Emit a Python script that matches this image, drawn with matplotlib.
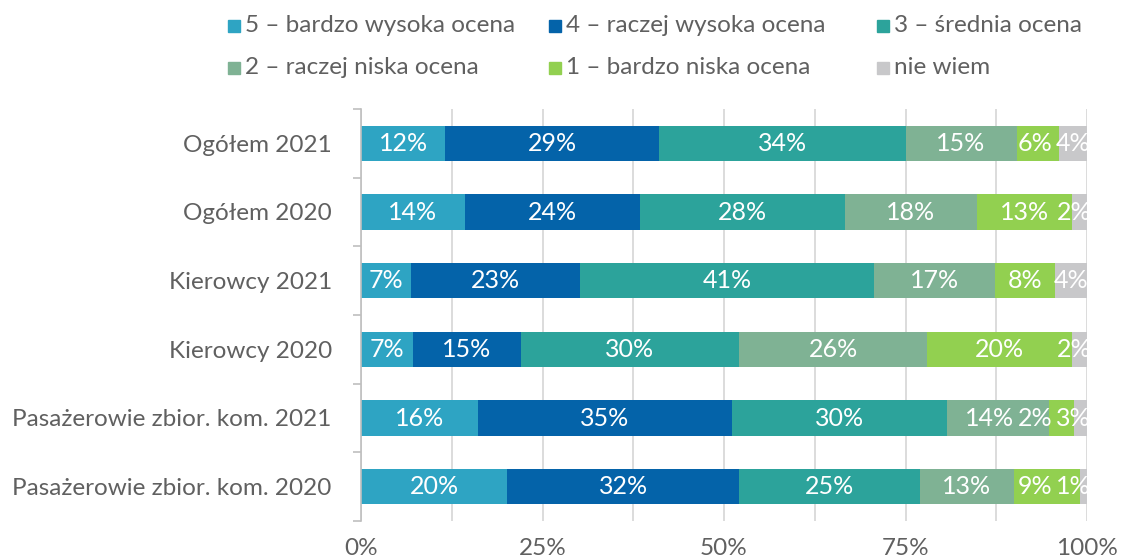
import matplotlib
matplotlib.use("Agg")
import matplotlib.pyplot as plt
from matplotlib.patches import Rectangle
import numpy as np

plt.rcParams['font.family'] = ['Lato', 'DejaVu Sans']

categories = ["Ogółem 2021", "Ogółem 2020", "Kierowcy 2021", "Kierowcy 2020",
              "Pasażerowie zbior. kom. 2021", "Pasażerowie zbior. kom. 2020"]
series = ["5 – bardzo wysoka ocena", "4 – raczej wysoka ocena", "3 – średnia ocena",
          "2 – raczej niska ocena", "1 – bardzo niska ocena", "nie wiem"]
colors = ["#2EA4C3", "#0463A9", "#2CA39B", "#7FB294", "#92D050", "#C8C8CA"]

# segment widths (in %)
values = [
    [11.6, 29.5, 33.9, 15.3, 5.8, 4.0],
    [14.3, 24.1, 28.3, 18.1, 13.1, 2.1],
    [6.9, 23.3, 40.5, 16.6, 8.3, 4.4],
    [7.2, 14.8, 30.1, 25.9, 19.9, 2.1],
    [16.1, 35.0, 29.6, 14.1, 3.4, 1.8],
    [20.1, 32.0, 24.9, 12.9, 9.1, 1.0],
]
# printed data labels
labels = [
    [12, 29, 34, 15, 6, 4],
    [14, 24, 28, 18, 13, 2],
    [7, 23, 41, 17, 8, 4],
    [7, 15, 30, 26, 20, 2],
    [16, 35, 30, 14, 2, 3],
    [20, 32, 25, 13, 9, 1],
]

grey = "#606060"
fig = plt.figure(figsize=(11.22, 5.58), dpi=100)
ax = fig.add_axes([361/1122, 1-521/558, 726/1122, 412/558])

vals = np.array(values)
y = np.arange(len(categories))
left = np.zeros(len(categories))
texts = [[] for _ in categories]
for j in range(len(series)):
    ax.barh(y, vals[:, j], left=left, height=0.51, color=colors[j], zorder=2)
    for i in range(len(categories)):
        t = ax.text(left[i] + vals[i, j]/2, y[i], f"{labels[i][j]}%", color="white",
                    fontsize=18, ha="center", va="center", zorder=3)
        texts[i].append(t)
    left += vals[:, j]

ax.set_xlim(0, 100)
ax.set_ylim(len(categories) - 0.5, -0.5)
ax.set_yticks(y)
ax.set_yticklabels(categories, fontsize=17.5, color=grey)
ax.set_yticks(np.arange(len(categories) + 1) - 0.5, minor=True)
ax.tick_params(axis="y", which="major", length=0, pad=21)
ax.tick_params(axis="y", which="minor", length=6, color="#BFBFBF", width=1.2)
ax.set_xticks(np.arange(0, 101, 25))
ax.set_xticklabels([f"{v}%" for v in range(0, 101, 25)], fontsize=17.5, color=grey)
ax.set_xticks(np.arange(0, 101, 12.5), minor=True)
ax.tick_params(axis="x", which="both", length=0, pad=12)
ax.grid(axis="x", which="both", color="#D9D9D9", linewidth=1.3, zorder=0)
for s in ["top", "right", "bottom"]:
    ax.spines[s].set_visible(False)
ax.spines["left"].set_color("#BFBFBF")
ax.spines["left"].set_linewidth(1.2)

# push overlapping labels left, like the original
fig.canvas.draw()
r = fig.canvas.get_renderer()
inv = ax.transData.inverted()
xlim_px = ax.transData.transform((100, 0))[0] + 4
for row in texts:
    limit = xlim_px
    for t in reversed(row):
        bb = t.get_window_extent(r)
        if bb.x1 > limit:
            shift = bb.x1 - limit
            x, yy = t.get_position()
            px = ax.transData.transform((x, yy))[0] - shift
            t.set_x(inv.transform((px, 0))[0])
            limit = bb.x0 - shift - 4
        else:
            limit = bb.x0 - 4

# legend, laid out in rows like the original
leg_x = [228, 549, 877]
leg_y = [26, 68]
for k, name in enumerate(series):
    cx = leg_x[k % 3] / 1122
    cy = 1 - leg_y[k // 3] / 558
    fig.add_artist(Rectangle((cx, cy - 6/558), 12/1122, 12/558, color=colors[k],
                             transform=fig.transFigure))
    fig.text(cx + 17/1122, cy, name, fontsize=17.5, color=grey, va="center", ha="left")

fig.savefig("out.png", dpi=100)
